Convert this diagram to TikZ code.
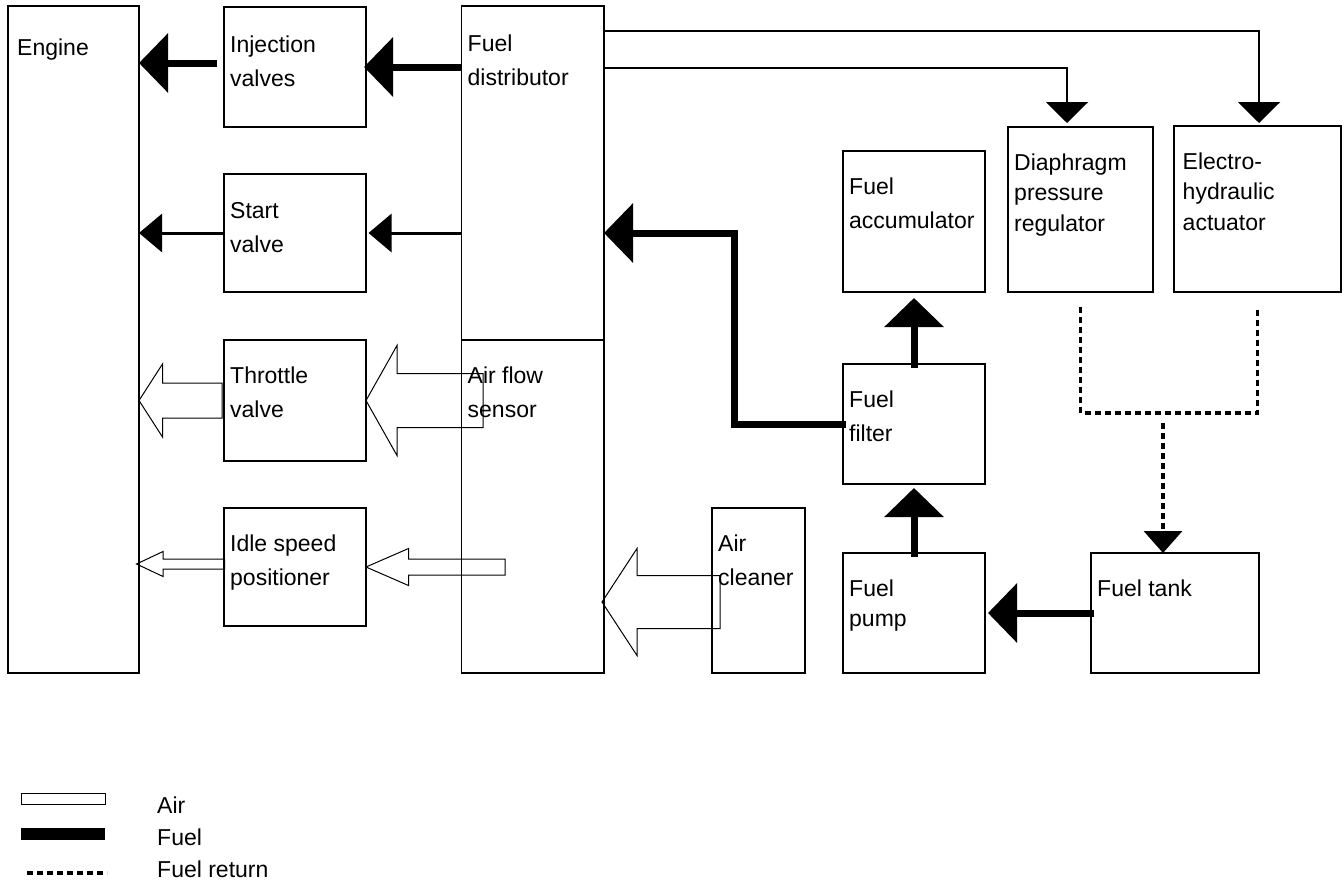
\documentclass[tikz,border=0pt]{standalone}
\usepackage{fontspec}
\setmainfont{Liberation Sans}
\usetikzlibrary{arrows.meta,calc}

% hollow air arrow: tip, head length, head half width, shaft half width, total length
\newcommand{\airarrow}[5]{%
  \draw[air] (#1) -- ++(#2,-#3) -- ++(0,#3-#4) -- ++(#5-#2,0) -- ++(0,2*#4)
    -- ++(#2-#5,0) -- ++(0,#3-#4) -- cycle;}

\begin{document}
\begin{tikzpicture}[x=1pt, y=-1pt,
                    every node/.style={font=\fontsize{23}{34}\selectfont},
                    box/.style={draw, line width=1.2pt, inner sep=0pt, outer sep=0pt, anchor=north west},
                    txt/.style={anchor=north west, align=left, inner sep=0pt, xshift=6pt, yshift=-26.5pt},
                    tight/.style={font=\fontsize{23}{30.5}\selectfont},
                    fuel/.style={line width=7pt, -{Triangle[length=29pt, width=58pt]}},
                    feed/.style={line width=3pt, -{Triangle[length=23pt, width=38pt]}},
                    ctrl/.style={line width=2.5pt, -{Triangle[length=21pt, width=42pt]}},
                    ret/.style={line width=3.5pt, dash pattern=on 6pt off 4pt},
                    air/.style={line width=1pt},
                ]
                \useasboundingbox (0,0) rectangle (1344,881);

                % blocks
                \node[box, minimum width=131pt, minimum height=667pt, label={[txt, xshift=3pt, yshift=-6pt]north west:Engine}] (engine) at (8,6) {};
                \node[box, minimum width=142pt, minimum height=120pt, label={[txt, yshift=-2pt]north west:Injection\\valves}] (inj) at (224,7) {};
                \node[box, minimum width=142pt, minimum height=118pt, label={[txt, yshift=-2pt]north west:Start\\valve}] (start) at (224,174) {};
                \node[box, minimum width=142pt, minimum height=121pt, label={[txt]north west:Throttle\\valve}] (throttle) at (224,340) {};
                \node[box, minimum width=142pt, minimum height=118pt, label={[txt]north west:Idle speed\\positioner}] (idle) at (224,508) {};
                \node[box, minimum width=142.5pt, minimum height=334pt, label={[txt, yshift=-2pt]north west:Fuel\\distributor}] (fd) at (461.5,6) {};
                \node[box, minimum width=142.5pt, minimum height=333pt, label={[txt]north west:Air flow\\sensor}] (afs) at (461.5,340) {};
                \node[box, minimum width=142pt, minimum height=141pt, label={[txt]north west:Fuel\\accumulator}] (accum) at (843,151) {};
                \node[box, minimum width=145pt, minimum height=165pt, label={[txt, tight]north west:Diaphragm\\pressure\\regulator}] (diaph) at (1008,127) {};
                \node[box, minimum width=167pt, minimum height=166pt, label={[txt, tight, xshift=2.5pt]north west:Electro-\\hydraulic\\actuator}] (electro) at (1174,126) {};
                \node[box, minimum width=142pt, minimum height=120pt, label={[txt]north west:Fuel\\filter}] (filter) at (843,364) {};
                \node[box, minimum width=93pt, minimum height=165pt, label={[txt]north west:Air\\cleaner}] (cleaner) at (712,508) {};
                \node[box, minimum width=142pt, minimum height=120pt, label={[txt, tight]north west:Fuel\\pump}] (pump) at (843,553) {};
                \node[box, minimum width=168pt, minimum height=120pt, label={[txt]north west:Fuel tank}] (tank) at (1091,553) {};

                % fuel
                \draw[fuel] ($(inj.west)+(-7,-4)$) -- ($(engine.east |- inj.west)+(0,-4)$);
                \draw[fuel] (fd.west |- inj.east) -- ([xshift=-2pt]inj.east);
                \draw[feed] ([xshift=1pt]start.west) -- (engine.east |- start.west);
                \draw[feed] (fd.west |- start.east) -- ([xshift=2.5pt]start.east);
                \draw[fuel] ([xshift=3pt]filter.west) -- ++(-112,0) |- (fd.east |- start.east);
                \draw[fuel] ([yshift=-4pt]filter.north) -- ([yshift=-6pt]accum.south);
                \draw[fuel] ([yshift=-4pt]pump.north) -- ([yshift=-4pt]filter.south);
                \draw[fuel] ([xshift=3pt]tank.west) -- ([xshift=3pt]pump.east);

                \draw[ctrl] ($(fd.north east)+(0,25)$) -| ([xshift=1.5pt, yshift=3pt]electro.north);
                \draw[ctrl] ($(fd.north east)+(0,62)$) -| ($(diaph.north)+(-13.5,-4)$);

                % fuel return
                \draw[ret] ($(diaph.south)+(0,15)$) |- ($(electro.south)+(0,121)$) -- ($(electro.south)+(0,15)$);
                \draw[ret, -{Triangle[length=22pt, width=38pt]}] ($(tank.north)+(-12,-130)$) -- ($(tank.north)+(-12,0)$);

                % air
                \airarrow{engine.east |- throttle.east}{23.5}{36.5}{17.5}{83}
                \airarrow{throttle.east}{31}{55}{27}{117}
                \airarrow{$(engine.east |- idle.east)+(-2.5,-3)$}{26.5}{12.5}{5}{88}
                \airarrow{idle.east}{42.5}{18.5}{8}{139}
                \airarrow{$(afs.east)+(-2,95.5)$}{35}{53.5}{26.5}{118}

                % legend
                \node[draw, line width=1pt, minimum width=84pt, minimum height=11pt, inner sep=0pt, anchor=north west] (legair) at (21,793) {};
                \node[fill=black, minimum width=84pt, minimum height=12pt, inner sep=0pt, anchor=north west] (legfuel) at (21,828) {};
                \coordinate (legret) at (27,873);
                \draw[ret] (legret) -- ++(80,0);
                \node[anchor=base west, inner sep=0pt] (airtxt) at (157,813) {Air};
                \node[anchor=base west, inner sep=0pt] (fueltxt) at (157,845) {Fuel};
                \node[anchor=base west, inner sep=0pt] (rettxt) at (157,877) {Fuel return};
            \end{tikzpicture}
\end{document}
